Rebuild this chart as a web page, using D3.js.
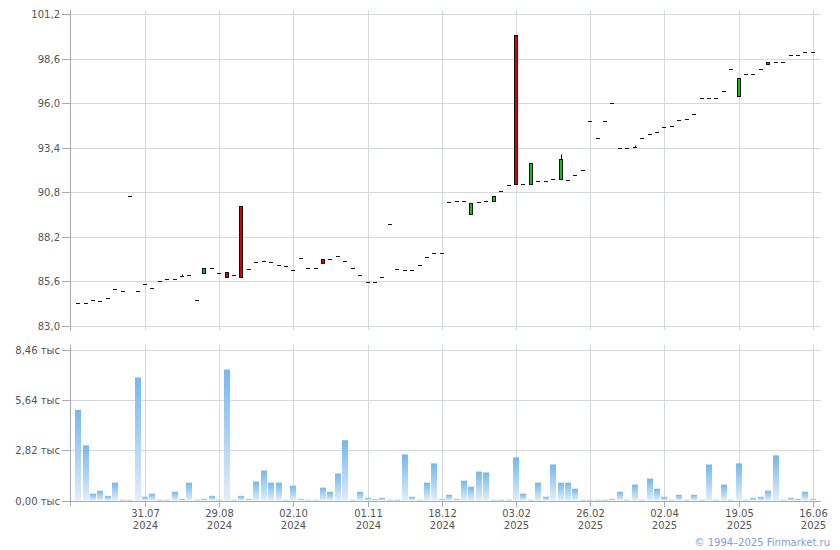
<!DOCTYPE html>
<html><head><meta charset="utf-8">
<script src="https://cdn.jsdelivr.net/npm/d3@7/dist/d3.min.js"></script>
<style>body{margin:0;background:#fff}svg{display:block}</style>
</head><body><svg id="c" width="840" height="550"></svg>
<script>
// ---- data ----
const closeP = [84.33,84.33,84.50,84.44,84.64,85.16,85.02,90.59,85.02,85.43,
  85.21,85.60,85.73,85.73,85.93,86.00,84.50,86.41,86.41,86.12,
  85.83,86.00,85.83,86.30,86.71,86.81,86.72,86.58,86.52,86.29,
  86.99,86.41,86.41,86.68,86.93,87.10,86.81,86.41,86.00,85.54,
  85.54,85.83,88.96,86.30,86.24,86.24,86.53,87.00,87.23,87.23,
  90.21,90.32,90.32,90.15,90.21,90.32,90.61,90.90,91.20,91.31,
  91.31,92.48,91.43,91.43,91.55,92.77,91.53,91.83,92.11,94.97,
  93.98,94.97,96.03,93.40,93.40,93.46,93.98,94.21,94.33,94.62,
  94.68,95.03,95.09,95.38,96.32,96.32,96.32,96.73,98.02,97.49,
  97.72,97.72,98.02,98.42,98.42,98.42,98.83,98.83,99.01,99.01];
const openP = [84.33,84.33,84.50,84.44,84.64,85.16,85.02,90.59,85.02,85.43,
  85.21,85.60,85.73,85.73,85.93,86.00,84.50,86.12,86.41,86.12,
  86.14,86.00,89.99,86.30,86.71,86.81,86.72,86.58,86.52,86.29,
  86.99,86.41,86.41,86.93,86.93,87.10,86.81,86.41,86.00,85.54,
  85.54,85.83,88.96,86.30,86.24,86.24,86.53,87.00,87.23,87.23,
  90.21,90.32,90.32,89.56,90.21,90.32,90.32,90.90,91.20,100.0,
  91.31,91.31,91.43,91.43,91.55,91.60,91.53,91.83,92.11,94.97,
  93.98,94.97,96.03,93.40,93.40,93.46,93.98,94.21,94.33,94.62,
  94.68,95.03,95.09,95.38,96.32,96.32,96.32,96.73,98.02,96.44,
  97.72,97.72,98.02,98.31,98.42,98.42,98.83,98.83,99.01,99.01];
// sessions whose high is above max(open, close): [index, high]
const wickHigh = [[14, 86.03], [65, 93.02], [75, 93.56]];
const volume = [5.08,3.09,0.38,0.55,0.26,1.00,0.04,0.04,6.89,0.21,
  0.38,0.04,0.04,0.49,0.09,1.00,0.04,0.09,0.26,0.04,
  7.34,0.04,0.26,0.09,1.06,1.68,1.00,1.00,0.04,0.83,
  0.09,0.04,0.04,0.72,0.49,1.51,3.38,0.04,0.49,0.15,
  0.09,0.15,0.04,0.04,2.58,0.21,0.04,1.00,2.08,0.09,
  0.32,0.09,1.11,0.77,1.62,1.57,0.04,0.04,0.04,2.42,
  0.38,0.04,1.00,0.21,2.02,1.00,1.00,0.66,0.04,0.04,
  0.04,0.04,0.09,0.49,0.04,0.89,0.04,1.23,0.66,0.21,
  0.04,0.32,0.04,0.32,0.04,2.02,0.04,0.89,0.04,2.08,
  0.04,0.15,0.21,0.55,2.53,0.04,0.15,0.09,0.49,0.09];
const tickIndex = [9,19,29,39,49,59,69,79,89,99];
const tickDay = ["31.07","29.08","02.10","01.11","18.12","03.02","26.02","02.04","19.05","16.06"];
const tickYear = ["2024","2024","2024","2024","2024","2025","2025","2025","2025","2025"];
const priceTicks = [83.0,85.6,88.2,90.8,93.4,96.0,98.6,101.2];
const volTicks = [0,2.82,5.64,8.46];

// ---- layout ----
const svg = d3.select("#c");
const L = 70, R = 821;
const font = "DejaVu Sans, Verdana, sans-serif";
const gridC = "#d3d9dd", axisC = "#a7a9b7", textC = "#555", linkC = "#7f9cd9";

const x = d3.scalePoint().domain(d3.range(closeP.length)).range([L, R]).padding(1.1);
const yP = d3.scaleLinear().domain([83, 101.2]).range([326, 14]);
const yV = d3.scaleLinear().domain([0, 8.46]).range([500.5, 349.5]);
const cx = i => Math.round(x(i));
const py = v => Math.round(yP(v)) + 0.5;

const defs = svg.append("defs");
const grad = defs.append("linearGradient").attr("id","vg").attr("x1",0).attr("y1",0).attr("x2",0).attr("y2",1);
grad.append("stop").attr("offset","0%").attr("stop-color","#74b8ef");
grad.append("stop").attr("offset","100%").attr("stop-color","#e1edf9");

// gridlines
const g = svg.append("g");
g.selectAll(".hp").data(priceTicks).join("line")
  .attr("x1", L).attr("x2", R).attr("y1", d => py(d)).attr("y2", d => py(d))
  .attr("stroke", gridC);
g.selectAll(".hv").data(volTicks).join("line")
  .attr("x1", L).attr("x2", R).attr("y1", d => Math.round(yV(d))+0.5).attr("y2", d => Math.round(yV(d))+0.5)
  .attr("stroke", d => d === 0 ? axisC : gridC);
g.selectAll(".vp").data(tickIndex).join("line")
  .attr("x1", d => cx(d)+0.5).attr("x2", d => cx(d)+0.5).attr("y1", 10).attr("y2", 330)
  .attr("stroke", gridC);
g.selectAll(".vv").data(tickIndex).join("line")
  .attr("x1", d => cx(d)+0.5).attr("x2", d => cx(d)+0.5).attr("y1", 345).attr("y2", Math.round(yV(0)))
  .attr("stroke", gridC);

// volume bars
svg.append("g").selectAll("rect").data(volume).join("rect")
  .attr("x", (d,i) => cx(i) - 3).attr("width", 6)
  .attr("y", d => yV(d)).attr("height", d => Math.max(1, yV(0) - yV(d)))
  .attr("fill", "url(#vg)");

// axes lines
svg.append("line").attr("x1", L+0.5).attr("x2", L+0.5).attr("y1", 10).attr("y2", 331).attr("stroke", axisC);
svg.append("line").attr("x1", L+0.5).attr("x2", L+0.5).attr("y1", 345).attr("y2", 506).attr("stroke", axisC);
svg.append("line").attr("x1", L).attr("x2", R).attr("y1", Math.round(yV(0))+0.5).attr("y2", Math.round(yV(0))+0.5).attr("stroke", axisC);
// bottom ticks
svg.append("g").selectAll("line").data(tickIndex).join("line")
  .attr("x1", d => cx(d)+0.5).attr("x2", d => cx(d)+0.5)
  .attr("y1", Math.round(yV(0))).attr("y2", Math.round(yV(0))+6).attr("stroke", axisC);

// left ticks + labels (price)
const lp = svg.append("g");
lp.selectAll("line").data(priceTicks).join("line")
  .attr("x1", L-8).attr("x2", L).attr("y1", d => py(d)).attr("y2", d => py(d)).attr("stroke", axisC);
lp.selectAll("text").data(priceTicks).join("text")
  .attr("x", L-10).attr("y", d => py(d)).attr("dy","0.35em").attr("text-anchor","end")
  .attr("font-family", font).attr("font-size", 10).attr("fill", textC)
  .text(d => d.toFixed(1).replace(".", ","));
// left ticks + labels (volume)
const lv = svg.append("g");
lv.selectAll("line").data(volTicks).join("line")
  .attr("x1", L-8).attr("x2", L).attr("y1", d => Math.round(yV(d))+0.5).attr("y2", d => Math.round(yV(d))+0.5).attr("stroke", axisC);
lv.selectAll("text").data(volTicks).join("text")
  .attr("x", L-10).attr("y", d => Math.round(yV(d))+0.5).attr("dy","0.35em").attr("text-anchor","end")
  .attr("font-family", font).attr("font-size", 10).attr("fill", textC)
  .text(d => d.toFixed(2).replace(".", ",") + " тыс");

// date labels
const dl = svg.append("g").selectAll("text").data(tickIndex).join("text")
  .attr("x", d => cx(d)+0.5).attr("text-anchor","middle")
  .attr("font-family", font).attr("font-size", 10).attr("fill", textC);
dl.append("tspan").attr("x", d => cx(d)+0.5).attr("y", 517).text((d,i) => tickDay[i]);
dl.append("tspan").attr("x", d => cx(d)+0.5).attr("y", 529).text((d,i) => tickYear[i]);

// candles
const cg = svg.append("g");
wickHigh.forEach(([i, h]) => {
  cg.append("line").attr("x1", cx(i)+0.5).attr("x2", cx(i)+0.5)
    .attr("y1", py(h)).attr("y2", py(Math.max(openP[i], closeP[i]))).attr("stroke", "#111");
});
closeP.forEach((c, i) => {
  const o = openP[i];
  const top = py(Math.max(o, c)), bot = py(Math.min(o, c));
  if (bot - top < 2) {
    cg.append("line").attr("x1", cx(i)-2).attr("x2", cx(i)+2)
      .attr("y1", py(c)).attr("y2", py(c)).attr("stroke", "#111");
  } else {
    cg.append("rect").attr("x", cx(i)-1.5).attr("width", 3)
      .attr("y", top).attr("height", bot - top)
      .attr("fill", c >= o ? "#15c015" : "#d80000").attr("stroke", "#111");
  }
});

// copyright
svg.append("text").attr("x", 830).attr("y", 546).attr("text-anchor","end")
  .attr("font-family", font).attr("font-size", 10).attr("fill", linkC)
  .text("© 1994–2025 Finmarket.ru");
</script></body></html>
